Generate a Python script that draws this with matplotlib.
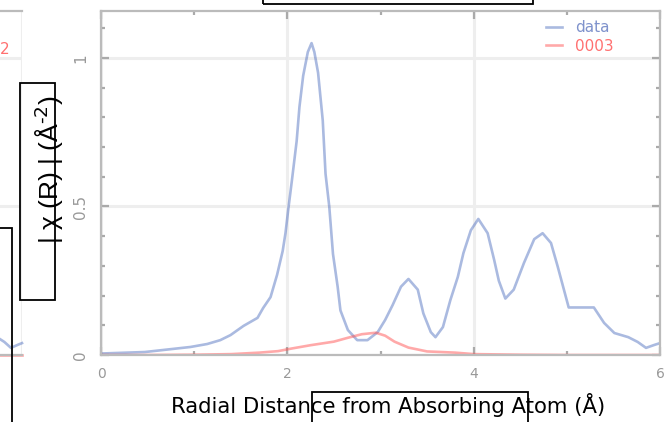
import matplotlib
matplotlib.use("Agg")
import matplotlib.pyplot as plt
from matplotlib.patches import Rectangle
from matplotlib.ticker import MultipleLocator

W, H = 671, 422

# radial distance (Angstrom) and |chi(R)| for the measured data
data_r = [0.0, 0.47, 0.96, 1.14, 1.28, 1.39, 1.53, 1.68, 1.74, 1.82, 1.89, 1.95,
          1.98, 2.01, 2.05, 2.10, 2.13, 2.17, 2.22, 2.26, 2.29, 2.33, 2.38, 2.41,
          2.45, 2.49, 2.54, 2.57, 2.65, 2.75, 2.86, 2.97, 3.05, 3.13, 3.22, 3.30,
          3.40, 3.46, 3.54, 3.59, 3.67, 3.75, 3.83, 3.89, 3.97, 4.05, 4.15, 4.22,
          4.27, 4.34, 4.43, 4.54, 4.65, 4.74, 4.83, 4.90, 4.96, 5.02, 5.15, 5.29,
          5.40, 5.51, 5.66, 5.76, 5.85, 5.94, 6.0]
data_chi = [0.005, 0.01, 0.027, 0.037, 0.05, 0.067, 0.098, 0.125, 0.158, 0.195,
            0.27, 0.35, 0.41, 0.49, 0.59, 0.72, 0.835, 0.94, 1.02, 1.05, 1.02,
            0.95, 0.79, 0.61, 0.50, 0.34, 0.23, 0.15, 0.084, 0.05, 0.05, 0.077,
            0.118, 0.168, 0.23, 0.256, 0.22, 0.14, 0.077, 0.06, 0.094, 0.185,
            0.263, 0.343, 0.42, 0.458, 0.41, 0.32, 0.25, 0.19, 0.22, 0.31, 0.39,
            0.41, 0.377, 0.30, 0.23, 0.16, 0.16, 0.16, 0.108, 0.074, 0.06, 0.044,
            0.024, 0.034, 0.04]

# fitted path 0003
path_r = [0.0, 0.5, 1.0, 1.4, 1.7, 1.9, 2.05, 2.25, 2.5, 2.65, 2.8, 2.95, 3.05,
          3.15, 3.3, 3.5, 3.8, 4.0, 4.5, 5.0, 5.5, 6.0]
path_chi = [0.0, 0.0, 0.001, 0.003, 0.008, 0.013, 0.022, 0.033, 0.045, 0.058,
            0.07, 0.075, 0.065, 0.045, 0.025, 0.012, 0.008, 0.003, 0.001, 0.0,
            0.0, 0.0]

x_ticks = [0, 2, 4, 6]
y_ticks = [0, 0.5, 1]
y_tick_labels = ["0", "0.5", "1"]

BLUE = "#4466bb"
RED = "#ff5555"
GRID = "#eeeeee"
SPINE = "#bbbbbb"


def px_box(x0, y0, x1, y1):
    # pixel box (top-left origin) -> figure fraction rectangle
    return (x0 / W, 1 - y1 / H), (x1 - x0) / W, (y1 - y0) / H


def style_axes(ax):
    ax.set_xlim(0, 6)
    ax.set_ylim(0, 1.158)
    ax.xaxis.set_major_locator(MultipleLocator(2))
    ax.xaxis.set_minor_locator(MultipleLocator(1))
    ax.yaxis.set_major_locator(MultipleLocator(0.5))
    ax.yaxis.set_minor_locator(MultipleLocator(0.1))
    ax.grid(True, which="major", color=GRID, lw=2.2, zorder=0)
    ax.set_axisbelow(True)
    for s in ax.spines.values():
        s.set_color(SPINE)
        s.set_linewidth(1.6)
    ax.tick_params(which="both", direction="in", top=True, right=True,
                   color="#aaaaaa", width=1.6)
    ax.tick_params(which="major", length=6)
    ax.tick_params(which="minor", length=3)


fig = plt.figure(figsize=(W / 100, H / 100), dpi=100)

# partial neighbour panel on the far left
pos, w, h = px_box(-420, 11, 22, 355)
ax_l = fig.add_axes([pos[0], pos[1], w, h])
style_axes(ax_l)
ax_l.spines["right"].set_visible(False)
ax_l.tick_params(which="both", labelleft=False, labelbottom=False, length=0)
ax_l.plot(data_r, data_chi, color=BLUE, alpha=0.45, lw=1.9, clip_on=False)
ax_l.plot(path_r, path_chi, color=RED, alpha=0.5, lw=1.9, clip_on=False)
# only the last character of that panel's legend entry is inside the frame
fig.text(0, 1 - 50 / H, "2", color="#ff7070", fontsize=11, ha="left", va="center")

# main panel
pos, w, h = px_box(101, 11, 660, 355)
ax = fig.add_axes([pos[0], pos[1], w, h])
style_axes(ax)
ax.plot(data_r, data_chi, color=BLUE, alpha=0.45, lw=1.9, label="data")
ax.plot(path_r, path_chi, color=RED, alpha=0.5, lw=1.9, label="0003")
ax.set_xticks(x_ticks)
ax.set_yticks(y_ticks)
ax.set_yticklabels(y_tick_labels, rotation=90, va="center")
ax.tick_params(axis="x", which="major", labelsize=10, labelcolor="#999999", pad=9)
ax.tick_params(axis="y", which="major", labelsize=11, labelcolor="#999999", pad=9)

leg = ax.legend(loc="upper right", bbox_to_anchor=(1 - 46 / 559, 1 - 9 / 344),
                frameon=False, fontsize=11, handlelength=1.0, handletextpad=0.9,
                labelspacing=0.25, borderaxespad=0, borderpad=0)
leg.get_texts()[0].set_color("#7f92cc")
leg.get_texts()[1].set_color("#ff7070")

ax.set_xlabel("Radial Distance from Absorbing Atom (Å)", fontsize=15.3)
ax.xaxis.set_label_coords((388 - 101) / 559, (355 - 393) / 344)
ax.set_ylabel("| χ (R) | (Å$^{\\text{-}2}$)", fontsize=19, family="Liberation Sans")
ax.yaxis.set_label_coords((66 - 101) / 559, (355 - 170) / 344)

# outline boxes overlaid on the figure
for x0, y0, x1, y1 in [(263, -5, 533, 4), (-5, 228, 12, 430),
                       (20, 83, 55, 300), (312, 392, 528, 430)]:
    p, bw, bh = px_box(x0, y0, x1, y1)
    fig.add_artist(Rectangle(p, bw, bh, transform=fig.transFigure, fill=False,
                             edgecolor="black", lw=1.3, zorder=10))

fig.savefig("out.png", dpi=100)
